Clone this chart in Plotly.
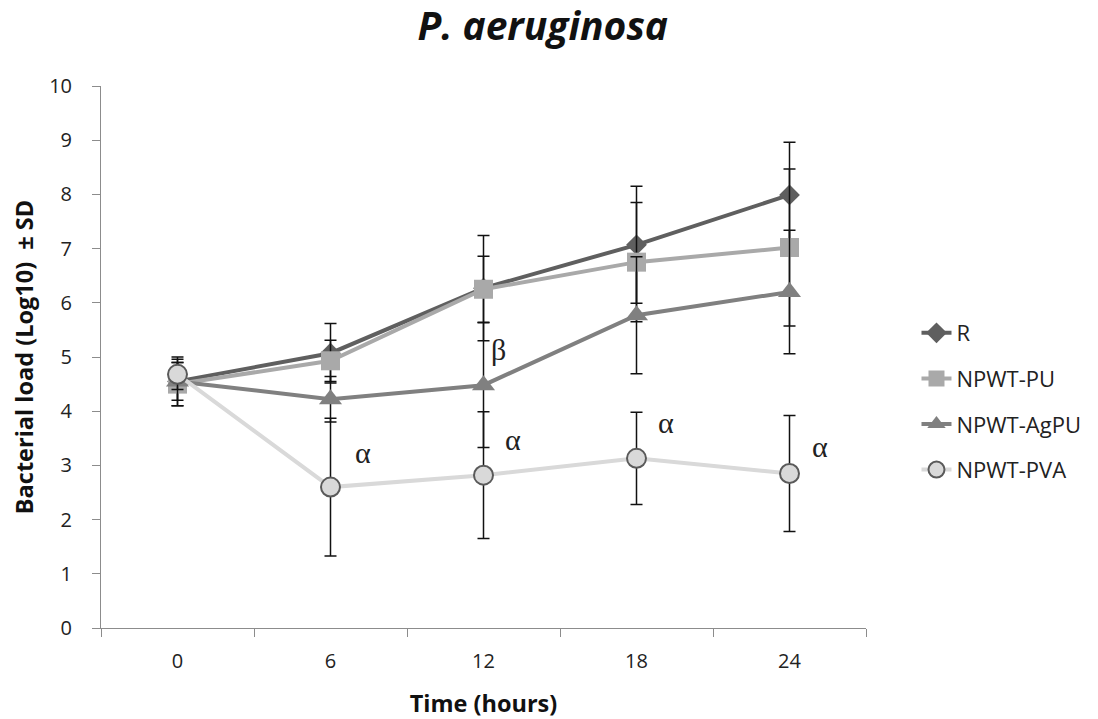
import plotly.graph_objects as go

time_labels = ["0", "6", "12", "18", "24"]

r_vals = [4.55, 5.07, 6.27, 7.07, 7.99]
r_sd = [0.45, 0.55, 0.97, 1.08, 0.97]

pu_vals = [4.50, 4.93, 6.25, 6.75, 7.02]
pu_sd = [0.40, 0.38, 0.61, 1.10, 1.45]

agpu_vals = [4.55, 4.22, 4.48, 5.77, 6.20]
agpu_sd = [0.35, 0.42, 1.15, 1.08, 1.14]

pva_vals = [4.68, 2.60, 2.82, 3.13, 2.85]
pva_sd = [0.28, 1.27, 1.17, 0.85, 1.07]

sig_labels = ["α", "α", "β", "α", "α"]
sig_x = [1, 2, 2, 3, 4]
sig_y = [3.23, 3.47, 5.13, 3.80, 3.34]
sig_shift = [32, 29, 15, 29, 30]

series = [
    ("R", r_vals, r_sd, "#5f5f5f", "diamond", 16, "#5f5f5f", "#5f5f5f"),
    ("NPWT-PU", pu_vals, pu_sd, "#a9a9a9", "square", 19, "#a9a9a9", "#a9a9a9"),
    ("NPWT-AgPU", agpu_vals, agpu_sd, "#808080", "triangle-up", 20, "#808080", "#808080"),
    ("NPWT-PVA", pva_vals, pva_sd, "#d9d9d9", "circle", 19, "#d9d9d9", "#5a5a5a"),
]

fig = go.Figure()
for i, (name, vals, sd, lc, sym, ms, fill, edge) in enumerate(series):
    fig.add_trace(go.Scatter(
        x=time_labels, y=vals, name=name, mode="lines+markers",
        legendgroup=f"g{i}",
        line=dict(color=lc, width=4),
        marker=dict(symbol=sym, size=ms, color=fill,
                    line=dict(color=edge, width=2 if sym == "circle" else 0)),
        error_y=dict(type="data", array=sd, visible=True, color="#111111",
                     thickness=1.5, width=6),
    ))

for lab, xx, yy, sh in zip(sig_labels, sig_x, sig_y, sig_shift):
    fig.add_annotation(x=xx, y=yy, text=lab, showarrow=False, xshift=sh,
                       font=dict(family="Liberation Serif", size=30, color="#222222"))

axis_col = "#8c8c8c"
fig.update_layout(
    width=1098, height=719,
    paper_bgcolor="white", plot_bgcolor="white",
    margin=dict(l=91, r=240, t=78, b=99),
    font=dict(family="Open Sans", color="#222222", size=20),
    title=dict(text="<b><i>P. aeruginosa</i></b>", x=0.487, xanchor="center",
               y=1, yanchor="top", pad=dict(t=5),
               font=dict(family="Open Sans", size=39, color="#111111")),
    showlegend=True,
    legend=dict(x=1.066, xanchor="left", y=0.583, yanchor="top",
                font=dict(family="Open Sans", size=22, color="#222222"),
                tracegroupgap=14, bgcolor="rgba(0,0,0,0)"),
    xaxis=dict(type="category", range=[-0.5, 4.5], tickson="boundaries",
               ticks="outside", ticklen=8, tickcolor=axis_col, showline=True,
               linecolor=axis_col, linewidth=1, showgrid=False, zeroline=False,
               ticklabelstandoff=15,
               tickfont=dict(family="Open Sans", size=20, color="#222222"),
               title=dict(text="<b>Time (hours)</b>", standoff=22,
                          font=dict(family="Open Sans", size=23.5, color="#111111"))),
    yaxis=dict(range=[0, 10], dtick=1, ticks="outside", ticklen=8,
               tickcolor=axis_col, showline=True, linecolor=axis_col,
               linewidth=1, showgrid=False, zeroline=False,
               ticklabelstandoff=16,
               tickfont=dict(family="Open Sans", size=20, color="#222222"),
               title=dict(text="<b>Bacterial load (Log10)  ± SD</b>", standoff=13,
                          font=dict(family="Open Sans", size=23.5, color="#111111"))),
)

fig.write_html("out.html")
